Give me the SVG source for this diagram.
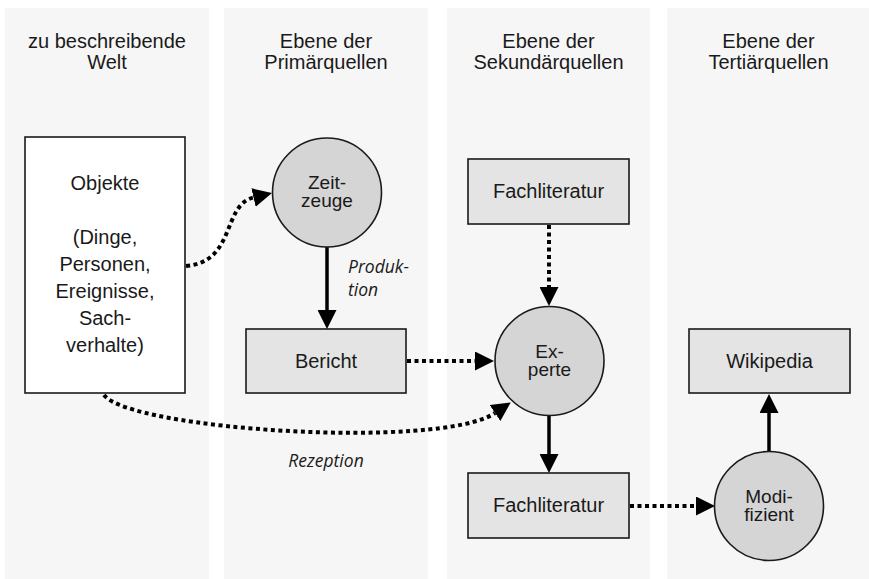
<svg xmlns="http://www.w3.org/2000/svg" width="869" height="579" viewBox="0 0 869 579">
<style>
.col{fill:#f6f6f6}
.hdr{font-family:"Liberation Sans",Arial,sans-serif;font-size:20px;fill:#1a1a1a;text-anchor:middle}
.lbl{font-family:"Liberation Sans",Arial,sans-serif;font-size:20px;fill:#1a1a1a;text-anchor:middle}
.cl{font-family:"Liberation Sans",Arial,sans-serif;font-size:19px;fill:#1a1a1a;text-anchor:middle}
.it{font-family:"Open Sans","Noto Sans",sans-serif;font-style:italic;font-size:17.5px;fill:#1a1a1a}
.box{fill:#e4e4e4;stroke:#1a1a1a;stroke-width:1.6}
.wbox{fill:#ffffff;stroke:#1a1a1a;stroke-width:1.6}
.circ{fill:#d5d5d5;stroke:#1a1a1a;stroke-width:1.6}
.dot{fill:none;stroke:#000;stroke-width:4;stroke-dasharray:4 3.5;marker-end:url(#ah)}
.sol{fill:none;stroke:#000;stroke-width:3.5;marker-end:url(#ah)}
</style>
<defs>
<marker id="ah" markerUnits="userSpaceOnUse" viewBox="0 0 19 19" markerWidth="19" markerHeight="19" refX="0" refY="9.5" orient="auto">
<path d="M0,0 L19,9.5 L0,19 Z" fill="#000"/>
</marker>
</defs>
<rect width="869" height="579" fill="#ffffff"/>
<g id="columns">
<rect class="col" x="5" y="8" width="204" height="571"/>
<rect class="col" x="224" y="8" width="204" height="571"/>
<rect class="col" x="447" y="8" width="203" height="571"/>
<rect class="col" x="667" y="8" width="202" height="571"/>
<text class="hdr" x="107" y="48">zu beschreibende</text>
<text class="hdr" x="107" y="69">Welt</text>
<text class="hdr" x="326" y="48">Ebene der</text>
<text class="hdr" x="326" y="69">Primärquellen</text>
<text class="hdr" x="548.5" y="48">Ebene der</text>
<text class="hdr" x="548.5" y="69">Sekundärquellen</text>
<text class="hdr" x="768.5" y="48">Ebene der</text>
<text class="hdr" x="768.5" y="69">Tertiärquellen</text>
</g>
<g id="connectors">
<path class="dot" d="M186,266 C236,262 222,205 253.5,197.5"/>
<path class="sol" d="M327,247 L327,310"/>
<path class="dot" d="M407,361 L475,361"/>
<path class="dot" d="M104,395 C130,430 440,450 495,413"/>
<path class="dot" d="M549,225 L549,287"/>
<path class="sol" d="M549,416 L549,454"/>
<path class="dot" d="M630,506 L696,506"/>
<path class="sol" d="M769,451 L769,413"/>
<text class="it" x="348" y="273">Produk-</text>
<text class="it" x="348" y="296">tion</text>
<text class="it" x="326" y="467" text-anchor="middle">Rezeption</text>
</g>
<g id="objekte">
<rect class="wbox" x="25" y="137" width="160" height="256"/>
<text class="lbl" x="105" y="190">Objekte</text>
<text class="lbl" x="105" y="244">(Dinge,</text>
<text class="lbl" x="105" y="271">Personen,</text>
<text class="lbl" x="105" y="298">Ereignisse,</text>
<text class="lbl" x="105" y="325">Sach-</text>
<text class="lbl" x="105" y="352">verhalte)</text>
</g>
<g id="zeitzeuge">
<circle class="circ" cx="327" cy="192.5" r="54.5"/>
<text class="cl" x="327" y="189">Zeit-</text>
<text class="cl" x="327" y="207">zeuge</text>
</g>
<g id="bericht">
<rect class="box" x="246" y="329" width="160" height="64"/>
<text class="lbl" x="326" y="367.5">Bericht</text>
</g>
<g id="fachliteratur1">
<rect class="box" x="468" y="159" width="161" height="65"/>
<text class="lbl" x="548.5" y="198">Fachliteratur</text>
</g>
<g id="experte">
<circle class="circ" cx="549.5" cy="361" r="54.5"/>
<text class="cl" x="549.5" y="358">Ex-</text>
<text class="cl" x="549.5" y="376">perte</text>
</g>
<g id="fachliteratur2">
<rect class="box" x="468" y="473" width="161" height="65"/>
<text class="lbl" x="548.5" y="512">Fachliteratur</text>
</g>
<g id="modifizient">
<circle class="circ" cx="769" cy="506" r="54.5"/>
<text class="cl" x="769" y="502.5">Modi-</text>
<text class="cl" x="769" y="520.5">fizient</text>
</g>
<g id="wikipedia">
<rect class="box" x="689" y="329" width="161" height="64"/>
<text class="lbl" x="769.5" y="368">Wikipedia</text>
</g>
</svg>
